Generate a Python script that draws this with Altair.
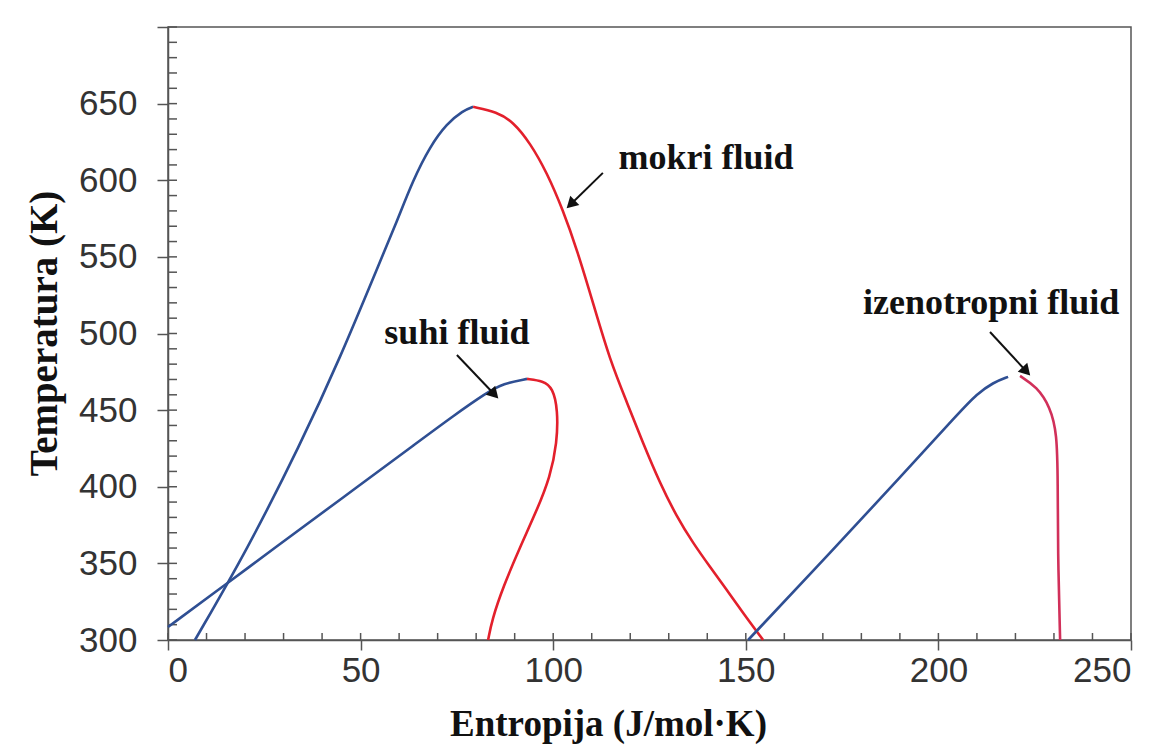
import altair as alt
import pandas as pd

# ---- saturation curves (entropy J/mol·K, temperature K) ----
mokri_liq_s = [7.0, 20.5, 34.3, 44.7, 55.0, 59.4, 63.6, 68.0, 72.4, 76.6, 79.2]
mokri_liq_t = [300, 358.7, 427.3, 484.1, 546.7, 573.0, 600.0, 622.0, 637.0, 645.5, 647.9]
mokri_vap_s = [79.2, 85.4, 89.6, 94.0, 98.4, 102.5, 106.2, 110.5, 114.7, 119.2, 123.3, 127.7,
               132.1, 136.3, 140.7, 145.1, 149.3, 154.5]
mokri_vap_t = [647.9, 644.6, 638.1, 624.4, 604.8, 580.7, 554.6, 518.6, 482.8, 454.7, 428.6, 402.5,
               380.3, 363.3, 347.7, 332.6, 317.6, 300]

suhi_liq_s = [0.0, 16.1, 27.3, 45.0, 65.4, 74.0, 82.8, 87.0, 93.2]
suhi_liq_t = [308.5, 338.4, 359.3, 392.2, 430.1, 446.1, 461.5, 467.3, 470.4]
suhi_vap_s = [93.2, 97.4, 99.9, 101.2, 101.0, 99.2, 95.8, 91.4, 87.0, 84.1, 83.1]
suhi_vap_t = [470.4, 469.1, 464.5, 450.1, 428.6, 406.4, 384.9, 360.7, 334.6, 313.1, 300]

izo_liq_s = [150.6, 172.6, 190.0, 205.6, 210.0, 214.2, 218.1]
izo_liq_t = [300, 358.7, 406.0, 449.0, 460.5, 468.0, 471.7]
izo_vap_s = [221.2, 225.6, 229.0, 230.8, 231.0, 231.0, 231.6]
izo_vap_t = [472.3, 465.1, 452.1, 435.1, 402.5, 358.7, 300]

segments = ["mokri_liq", "mokri_vap", "suhi_liq", "suhi_vap", "izo_liq", "izo_vap"]
seg_colors = ["#2f4f93", "#e3202c", "#2f4f93", "#e3202c", "#2f4f93", "#d1305a"]

# ---- annotations ----
labels = ["mokri fluid", "suhi fluid", "izenotropni fluid"]
label_s = [139.7, 75.0, 213.7]
label_t = [614.6, 500.4, 520.0]
arrow_s0 = [112.9, 75.0, 213.4]
arrow_t0 = [604.8, 486.0, 501.0]
arrow_s1 = [104.9, 84.4, 222.5]
arrow_t1 = [585.2, 461.2, 476.2]
arrow_angle = [226, 136, 137]

# ---- axis ticks ----
x_major = [0, 50, 100, 150, 200, 250]
y_major = [300, 350, 400, 450, 500, 550, 600, 650, 700]
x_minor = list(range(0, 251, 10))
y_minor = list(range(300, 701, 10))

rows = []
for name, s, t in [("mokri_liq", mokri_liq_s, mokri_liq_t), ("mokri_vap", mokri_vap_s, mokri_vap_t),
                   ("suhi_liq", suhi_liq_s, suhi_liq_t), ("suhi_vap", suhi_vap_s, suhi_vap_t),
                   ("izo_liq", izo_liq_s, izo_liq_t), ("izo_vap", izo_vap_s, izo_vap_t)]:
    for i, (a, b) in enumerate(zip(s, t)):
        rows.append({"seg": name, "s": a, "T": b, "i": i})
curves = pd.DataFrame(rows)

ann = pd.DataFrame({"label": labels, "s": label_s, "T": label_t})
arrows = pd.DataFrame({"s0": arrow_s0, "t0": arrow_t0, "s1": arrow_s1, "t1": arrow_t1, "ang": arrow_angle})
xm = pd.DataFrame({"v": x_minor})
ym = pd.DataFrame({"v": y_minor})

W, H = 963, 613
xscale = alt.Scale(domain=[0, 250], nice=False, zero=False)
yscale = alt.Scale(domain=[300, 700], nice=False, zero=False)

title_font = "Liberation Serif"

xaxis = alt.Axis(values=x_major, tickSize=10, labelPadding=3, title="Entropija (J/mol·K)",
                 titleFontSize=37, titleX=440, titleY=84, titleBaseline="middle", titleAlign="center")
yaxis = alt.Axis(values=y_major, tickSize=11, labelPadding=20, title="Temperatura (K)",
                 labelExpr="datum.value >= 700 ? '' : datum.label", titleFontSize=39,
                 titleX=-124, titleY=306, titleAngle=270, titleBaseline="middle", titleAlign="center")

lines = alt.Chart(curves).mark_line(strokeWidth=2.6, interpolate="basis").encode(
    x=alt.X("s:Q", scale=xscale, axis=xaxis),
    y=alt.Y("T:Q", scale=yscale, axis=yaxis),
    color=alt.Color("seg:N", scale=alt.Scale(domain=segments, range=seg_colors), legend=None),
    detail="seg:N",
    order="i:Q",
)

xminor = alt.Chart(xm).mark_rule(color="#555", strokeWidth=1.5).encode(
    x=alt.X("v:Q", scale=xscale), y=alt.value(H), y2=alt.value(H - 7))
yminor = alt.Chart(ym).mark_rule(color="#555", strokeWidth=1.5).encode(
    y=alt.Y("v:Q", scale=yscale), x=alt.value(0), x2=alt.value(9))

texts = alt.Chart(ann).mark_text(font=title_font, fontWeight="bold", fontSize=36, color="#111",
                                 baseline="middle", align="center").encode(
    x=alt.X("s:Q", scale=xscale), y=alt.Y("T:Q", scale=yscale), text="label:N")

shafts = alt.Chart(arrows).mark_rule(color="#111", strokeWidth=2).encode(
    x=alt.X("s0:Q", scale=xscale), y=alt.Y("t0:Q", scale=yscale), x2="s1:Q", y2="t1:Q")
heads = alt.Chart(arrows).mark_point(shape="triangle", filled=True, size=170, color="#111", opacity=1).encode(
    x=alt.X("s1:Q", scale=xscale), y=alt.Y("t1:Q", scale=yscale), angle=alt.Angle("ang:Q", scale=None))

chart = alt.layer(xminor, yminor, lines, shafts, heads, texts).properties(
    width=W, height=H,
    autosize=alt.AutoSizeParams(type="none"),
    padding={"left": 160, "top": 19, "right": 30, "bottom": 105},
    background="white",
).configure_view(stroke="#555", strokeWidth=1.5).configure_axis(
    grid=False, domainColor="#555", domainWidth=1.5, tickColor="#555", tickWidth=1.5,
    labelFont="Liberation Sans", labelFontSize=35, labelColor="#333",
    titleFont=title_font, titleFontWeight="bold", titleColor="#111",
)

chart.save("out.html", embed_options={"renderer": "svg", "actions": False})
